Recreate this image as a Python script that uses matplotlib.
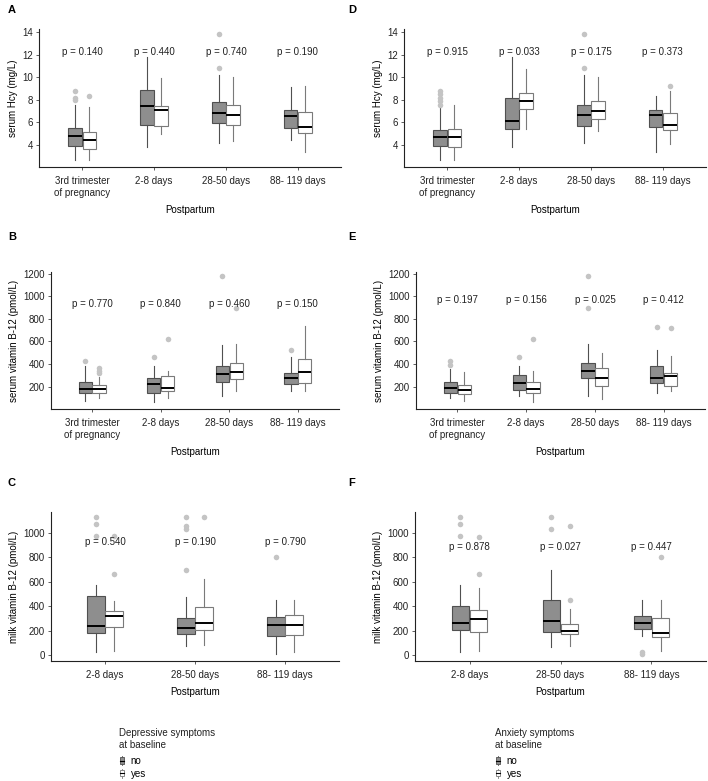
import matplotlib
matplotlib.use("Agg")
import matplotlib.pyplot as plt
import numpy as np
from matplotlib.patches import Patch, Rectangle
from matplotlib.lines import Line2D
from matplotlib.legend_handler import HandlerBase

plt.rcParams["font.family"] = ["Liberation Sans", "DejaVu Sans"]

W, H = 708, 781

periods4 = ["3rd trimester\nof pregnancy", "2-8 days", "28-50 days", "88- 119 days"]
periods3 = ["2-8 days", "28-50 days", "88- 119 days"]

# box stats per period: (lower whisker, q1, median, q3, upper whisker)
# A  serum Hcy ~ depressive symptoms
hcy_dep_no = [(2.64, 3.94, 4.83, 5.50, 7.57), (3.79, 5.77, 7.48, 8.87, 11.76),
              (4.18, 5.95, 6.83, 7.80, 10.17), (4.44, 5.53, 6.54, 7.10, 9.13)]
hcy_dep_yes = [(2.64, 3.65, 4.41, 5.15, 7.36), (4.97, 5.65, 7.13, 7.42, 9.93),
               (4.32, 5.80, 6.68, 7.57, 10.02), (3.35, 5.06, 5.59, 6.92, 9.22)]
hcy_dep_no_out = [[8.8, 8.2, 8.0], [], [13.8, 10.8], []]
hcy_dep_yes_out = [[8.35], [], [], []]
hcy_dep_p = ["0.140", "0.440", "0.740", "0.190"]

# B  serum vitamin B-12 ~ depressive symptoms
b12_dep_no = [(68, 141, 176, 238, 385), (59, 147, 224, 274, 385),
              (118, 244, 312, 385, 565), (156, 221, 274, 318, 465)]
b12_dep_yes = [(97, 147, 179, 212, 280), (97, 156, 191, 297, 338),
               (156, 265, 332, 412, 574), (156, 235, 326, 444, 735)]
b12_dep_no_out = [[426], [465], [1176], [524]]
b12_dep_yes_out = [[362, 341, 318], [618], [894], []]
b12_dep_p = ["0.770", "0.840", "0.460", "0.150"]

# C  milk vitamin B-12 ~ depressive symptoms
milk_dep_no = [(27, 184, 241, 482, 575), (74, 170, 225, 304, 474), (8, 153, 244, 315, 452)]
milk_dep_yes = [(35, 230, 321, 362, 444), (79, 203, 266, 397, 622), (27, 167, 244, 326, 452)]
milk_dep_no_out = [[1129, 1074, 978], [1129, 1060, 1033, 699], [803]]
milk_dep_yes_out = [[973, 666], [1129], []]
milk_dep_p = ["0.540", "0.190", "0.790"]

# D  serum Hcy ~ anxiety symptoms
hcy_anx_no = [(2.64, 3.94, 4.68, 5.33, 7.36), (3.79, 5.39, 6.12, 8.16, 11.79),
              (4.18, 5.65, 6.63, 7.57, 10.17), (3.35, 5.56, 6.63, 7.10, 8.31)]
hcy_anx_yes = [(2.64, 3.79, 4.68, 5.39, 7.57), (5.39, 7.16, 7.92, 8.57, 10.73),
               (5.27, 6.30, 6.98, 7.89, 10.02), (4.09, 5.36, 5.74, 6.86, 8.75)]
hcy_anx_no_out = [[8.8, 8.5, 8.2, 7.9, 7.5], [], [13.8, 10.8], []]
hcy_anx_yes_out = [[], [], [], [9.22]]
hcy_anx_p = ["0.915", "0.033", "0.175", "0.373"]

# E  serum vitamin B-12 ~ anxiety symptoms
b12_anx_no = [(97, 147, 185, 238, 353), (112, 171, 229, 300, 385),
              (112, 276, 338, 406, 576), (147, 229, 274, 385, 524)]
b12_anx_yes = [(68, 135, 171, 212, 332), (59, 141, 176, 241, 338),
               (88, 206, 274, 368, 494), (156, 206, 297, 318, 474)]
b12_anx_no_out = [[430, 388], [465], [1176, 894], [729]]
b12_anx_yes_out = [[], [618], [], [721]]
b12_anx_p = ["0.197", "0.156", "0.025", "0.412"]

# F  milk vitamin B-12 ~ anxiety symptoms
milk_anx_no = [(25, 203, 260, 405, 575), (68, 192, 282, 447, 699), (156, 211, 260, 318, 452)]
milk_anx_yes = [(35, 192, 296, 370, 548), (74, 170, 200, 252, 378), (35, 151, 178, 304, 447)]
milk_anx_no_out = [[1129, 1074, 978], [1129, 1036], [25, 12]]
milk_anx_yes_out = [[964, 666], [1055, 452], [803]]
milk_anx_p = ["0.878", "0.027", "0.447"]

GREY_FILL = "#8e8e8e"
GREY_EDGE = "#505050"
WHITE_EDGE = "#7a7a7a"
OUT_COL = "#c4c4c4"

fig = plt.figure(figsize=(W / 100, H / 100), dpi=100)


def rect(left, top, right, bottom):
    return [left / W, 1 - bottom / H, (right - left) / W, (bottom - top) / H]


def to_stats(boxes, outs):
    return [dict(whislo=b[0], q1=b[1], med=b[2], q3=b[3], whishi=b[4], fliers=o)
            for b, o in zip(boxes, outs)]


def panel(box, no, yes, no_out, yes_out, pvals, p_y, labels, ylabel, ylim, yticks):
    ax = fig.add_axes(rect(*box))
    n = len(no)
    pos = np.arange(1, n + 1)
    for stats, dx, fc, ec in [(to_stats(no, no_out), -0.1, GREY_FILL, GREY_EDGE),
                              (to_stats(yes, yes_out), 0.1, "white", WHITE_EDGE)]:
        ax.bxp(stats, positions=pos + dx, widths=0.19, patch_artist=True,
               showcaps=False, manage_ticks=False,
               boxprops=dict(facecolor=fc, edgecolor=ec, lw=0.8),
               whiskerprops=dict(color=ec, lw=0.8),
               medianprops=dict(color="black", lw=1.4),
               flierprops=dict(marker="o", markerfacecolor=OUT_COL,
                               markeredgecolor="none", markersize=4))
    for x, p in zip(pos, pvals):
        ax.text(x, p_y, f"p = {p}", ha="center", va="center", fontsize=7, color="#222222")
    ax.set_xlim(0.4, n + 0.6)
    ax.set_ylim(*ylim)
    ax.set_yticks(yticks)
    ax.set_xticks(pos)
    ax.set_xticklabels(labels)
    ax.set_xlabel("Postpartum", fontsize=7, labelpad=5)
    ax.set_ylabel(ylabel, fontsize=7, labelpad=3)
    for s in ["top", "right"]:
        ax.spines[s].set_visible(False)
    for s in ["left", "bottom"]:
        ax.spines[s].set_linewidth(0.8)
        ax.spines[s].set_color("#222222")
    ax.tick_params(axis="both", labelsize=7, length=2.5, width=0.6,
                   color="#444444", labelcolor="#222222")
    ax.tick_params(axis="x", pad=4)
    ax.tick_params(axis="y", pad=2)
    return ax


hcy_ticks = [4, 6, 8, 10, 12, 14]
b12_ticks = [200, 400, 600, 800, 1000, 1200]
milk_ticks = [0, 200, 400, 600, 800, 1000]

panel((39, 29, 341, 167), hcy_dep_no, hcy_dep_yes, hcy_dep_no_out, hcy_dep_yes_out,
      hcy_dep_p, 12.2, periods4, "serum Hcy (mg/L)", (2.05, 14.27), hcy_ticks)
panel((404, 29, 706, 167), hcy_anx_no, hcy_anx_yes, hcy_anx_no_out, hcy_anx_yes_out,
      hcy_anx_p, 12.2, periods4, "serum Hcy (mg/L)", (2.05, 14.27), hcy_ticks)
panel((51, 272, 339, 409), b12_dep_no, b12_dep_yes, b12_dep_no_out, b12_dep_yes_out,
      b12_dep_p, 930, periods4, "serum vitamin B-12 (pmol/L)", (1, 1214), b12_ticks)
panel((416, 272, 705, 409), b12_anx_no, b12_anx_yes, b12_anx_no_out, b12_anx_yes_out,
      b12_anx_p, 970, periods4, "serum vitamin B-12 (pmol/L)", (1, 1214), b12_ticks)
panel((51, 512, 339, 661), milk_dep_no, milk_dep_yes, milk_dep_no_out, milk_dep_yes_out,
      milk_dep_p, 923, periods3, "milk vitamin B-12 (pmol/L)", (-49, 1172), milk_ticks)
panel((415, 512, 706, 661), milk_anx_no, milk_anx_yes, milk_anx_no_out, milk_anx_yes_out,
      milk_anx_p, 882, periods3, "milk vitamin B-12 (pmol/L)", (-49, 1172), milk_ticks)

for letter, x, y in [("A", 8, 10), ("B", 8, 237), ("C", 8, 483),
                     ("D", 348, 10), ("E", 348, 237), ("F", 348, 483)]:
    fig.text(x / W, 1 - y / H, letter, fontsize=8, fontweight="bold", va="center")


class BoxHandler(HandlerBase):
    def create_artists(self, legend, orig_handle, xdescent, ydescent,
                       width, height, fontsize, trans):
        fc = orig_handle.get_facecolor()
        ec = orig_handle.get_edgecolor()
        cx = width / 2 - xdescent
        bw = width * 0.75
        y0 = -ydescent
        whisk = Line2D([cx, cx], [y0 - height * 0.05, y0 + height * 1.05], color=ec, lw=0.6,
                       transform=trans)
        box = Rectangle((cx - bw / 2, y0 + height * 0.15), bw, height * 0.7,
                        facecolor=fc, edgecolor=ec, lw=0.6, transform=trans)
        med = Line2D([cx - bw / 2, cx + bw / 2], [y0 + height * 0.5] * 2, color="black",
                     lw=0.8, transform=trans)
        return [whisk, box, med]


for title, x in [("Depressive symptoms\nat baseline", 119), ("Anxiety symptoms\nat baseline", 495)]:
    handles = [Patch(facecolor=GREY_FILL, edgecolor=GREY_EDGE, label="no"),
               Patch(facecolor="white", edgecolor=WHITE_EDGE, label="yes")]
    leg = fig.legend(handles=handles, title=title, loc="upper left",
                     bbox_to_anchor=(x / W, 1 - 728 / H), frameon=False,
                     fontsize=7, title_fontsize=7, alignment="left",
                     handlelength=0.6, handleheight=1.0, handletextpad=0.6,
                     labelspacing=0.3, borderpad=0, borderaxespad=0,
                     handler_map={Patch: BoxHandler()})
    leg.get_title().set_color("#222222")
    leg._legend_box.sep = 4.5

plt.savefig("out.png", dpi=100)
